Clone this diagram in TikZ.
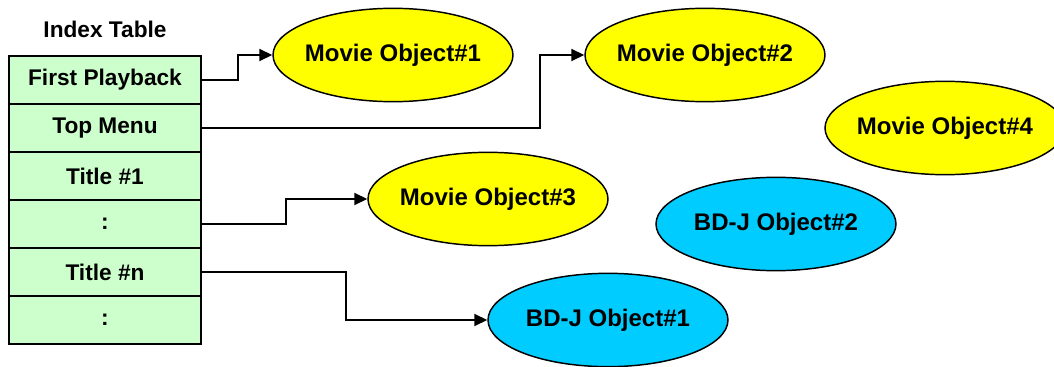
\documentclass[tikz,border=0pt]{standalone}
\usepackage{fontspec}
\setmainfont{Liberation Sans}
\usetikzlibrary{shapes.geometric,arrows.meta}

\definecolor{cellgreen}{RGB}{204,255,204}
\definecolor{movieyellow}{RGB}{255,255,0}
\definecolor{bdjcyan}{RGB}{0,204,255}

\tikzset{
  cell/.style={draw, line width=1.5pt, fill=cellgreen, minimum width=144pt, minimum height=36pt, inner sep=0pt, font=\fontsize{17}{20}\selectfont\bfseries},
  objnode/.style={ellipse, draw, line width=1.1pt, minimum width=180pt, minimum height=70pt, inner xsep=-4pt, inner ysep=0pt, font=\fontsize{18}{21}\selectfont\bfseries},
  movieobj/.style={objnode, fill=movieyellow},
  bdjobj/.style={objnode, fill=bdjcyan},
  link/.style={line width=1.5pt, -{Triangle[length=9.75pt,width=9pt]}}
}

\begin{document}
\begin{tikzpicture}[x=0.75pt,y=0.75pt,yscale=-1,xscale=1]
%set diagram left start at 0, and has height of 367
\useasboundingbox (0,0) rectangle (1054,367);

% Text Node
\node[font=\fontsize{17}{20}\selectfont\bfseries] (title) at (105,29) {Index Table};

%Shape: Rectangle (index table rows)
\node[cell] (fp)   at (105,80)  {First Playback};
\node[cell] (top)  at (105,128) {Top Menu};
\node[cell] (t1)   at (105,176) {Title \#1};
\node[cell] (dots) at (105,224) {:};
\node[cell] (tn)   at (105,272) {Title \#n};
\node[cell] (more) at (105,320) {:};

%Shape: Ellipse
\node[movieobj] (mo1) at (393,55)  {Movie Object\#1};
\node[movieobj] (mo2) at (705,55)  {Movie Object\#2};
\node[movieobj] (mo3) at (488,199) {Movie Object\#3};
\node[movieobj] (mo4) at (945,128) {Movie Object\#4};
\node[bdjobj]   (bd2) at (776,224) {BD-J Object\#2};
\node[bdjobj]   (bd1) at (608,320) {BD-J Object\#1};

%Straight Lines
\draw[link] (fp.east) -- ++(36,0) |- (mo1.west);
\draw[link] (top.east) -- ++(338,0) |- (mo2.west);
\draw[link] (dots.east) -- ++(84,0) |- (mo3.west);
\draw[link] (tn.east) -- ++(144,0) |- (bd1.west);

\end{tikzpicture}
\end{document}
